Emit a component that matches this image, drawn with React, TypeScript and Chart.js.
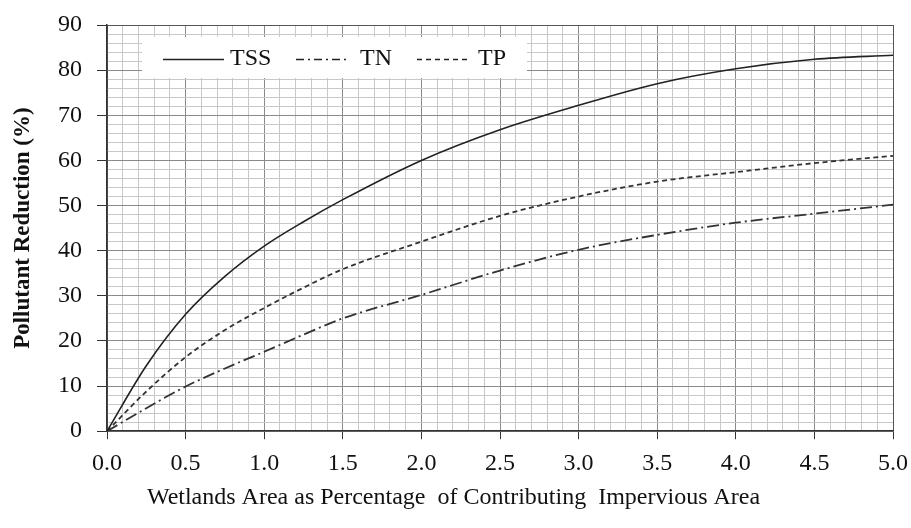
import React, { useEffect, useRef } from "react";
import { Chart, registerables } from "chart.js";

Chart.register(...registerables);

const xValues = [0, 0.25, 0.5, 0.75, 1.0, 1.25, 1.5, 2.0, 2.5, 3.0, 3.5, 4.0, 4.5, 5.0];
const tssValues = [0, 14.5, 25.9, 34.3, 41.0, 46.4, 51.3, 60.0, 66.8, 72.2, 77.0, 80.3, 82.4, 83.3];
const tnValues = [0, 5.1, 9.9, 13.9, 17.6, 21.4, 25.0, 30.2, 35.6, 40.2, 43.5, 46.2, 48.2, 50.2];
const tpValues = [0, 8.8, 16.4, 22.4, 27.3, 31.8, 35.9, 42.0, 47.7, 52.0, 55.3, 57.4, 59.4, 61.0];
const seriesLabels = ["TSS", "TN", "TP"];
const xTitle = "Wetlands Area as Percentage  of Contributing  Impervious Area";
const yTitle = "Pollutant Reduction (%)";

const FONT = "'Liberation Serif', 'Times New Roman', serif";

const toPoints = (ys: number[]) => xValues.map((x, i) => ({ x, y: ys[i] }));

const isMult = (v: number, step: number) => Math.abs(v / step - Math.round(v / step)) < 1e-6;

const legendPlugin = {
  id: "boxLegend",
  beforeDatasetsDraw(chart: any) {
    const ctx = chart.ctx;
    ctx.save();
    ctx.fillStyle = "#ffffff";
    ctx.fillRect(142, 37, 385, 41);
    const items = [
      { x0: 163, x1: 224, tx: 230, dash: [], w: 1.5 },
      { x0: 296, x1: 348, tx: 360, dash: [8, 4, 2, 4], w: 1.6 },
      { x0: 417, x1: 470, tx: 478, dash: [5, 4], w: 1.6 },
    ];
    items.forEach((it, i) => {
      const ds = chart.data.datasets[i];
      ctx.strokeStyle = "#222";
      ctx.lineWidth = it.w;
      ctx.setLineDash(it.dash);
      ctx.beginPath();
      ctx.moveTo(it.x0, 59.5);
      ctx.lineTo(it.x1, 59.5);
      ctx.stroke();
      ctx.setLineDash([]);
      ctx.fillStyle = "#111";
      ctx.font = `24px ${FONT}`;
      ctx.textBaseline = "alphabetic";
      ctx.textAlign = "left";
      ctx.fillText(ds.label, it.tx, 65);
    });
    ctx.restore();
  },
};

const zeroPad = (s: any) => {
  s.paddingTop = 0;
  s.paddingBottom = 0;
  s.paddingLeft = 0;
  s.paddingRight = 0;
};

export default function App() {
  const ref = useRef<HTMLCanvasElement>(null);
  useEffect(() => {
    if (!ref.current) return;
    const chart = new Chart(ref.current, {
      type: "line",
      data: {
        datasets: [
          {
            label: seriesLabels[0],
            data: toPoints(tssValues),
            borderColor: "#222",
            borderWidth: 1.6,
            pointRadius: 0,
            cubicInterpolationMode: "monotone",
          },
          {
            label: seriesLabels[1],
            data: toPoints(tnValues),
            borderColor: "#333",
            borderWidth: 1.8,
            borderDash: [12, 4, 2, 4],
            pointRadius: 0,
            cubicInterpolationMode: "monotone",
          },
          {
            label: seriesLabels[2],
            data: toPoints(tpValues),
            borderColor: "#333",
            borderWidth: 1.8,
            borderDash: [5, 3.5],
            pointRadius: 0,
            cubicInterpolationMode: "monotone",
          },
        ],
      },
      plugins: [legendPlugin],
      options: {
        animation: false,
        responsive: false,
        maintainAspectRatio: false,
        layout: { padding: { left: 14, right: 18, top: 25, bottom: 0 } },
        plugins: {
          legend: { display: false },
          tooltip: { enabled: false },
          title: {
            display: true,
            position: "bottom",
            text: xTitle,
            color: "#111",
            font: { family: FONT, size: 24, weight: "normal" },
            padding: { top: 0, bottom: 16 },
          },
        },
        scales: {
          x: {
            type: "linear",
            min: 0,
            max: 5,
            afterFit: (s: any) => {
              s.height = 52;
              zeroPad(s);
            },
            ticks: {
              stepSize: 0.1,
              autoSkip: false,
              maxRotation: 0,
              padding: 10,
              color: "#111",
              font: { family: FONT, size: 24 },
              callback: (v: any) => (isMult(Number(v), 0.5) ? Number(v).toFixed(1) : ""),
            },
            grid: {
              tickLength: 8,
              lineWidth: 1,
              color: (c: any) => {
                const v = c.tick ? c.tick.value : 0;
                if (isMult(v, 5)) return "#555";
                return isMult(v, 0.5) ? "#8a8a8a" : "#c8c8c8";
              },
              tickColor: (c: any) => {
                const v = c.tick ? c.tick.value : 0;
                return isMult(v, 0.5) ? "#333" : "rgba(0,0,0,0)";
              },
            },
            border: { color: "#333", width: 1.5 },
          },
          y: {
            min: 0,
            max: 90,
            afterFit: (s: any) => {
              s.width = 93;
              zeroPad(s);
            },
            ticks: {
              stepSize: 2,
              autoSkip: false,
              padding: 15,
              color: "#111",
              font: { family: FONT, size: 24 },
              callback: (v: any) => (isMult(Number(v), 10) ? String(v) : ""),
            },
            grid: {
              tickLength: 10,
              lineWidth: 1,
              color: (c: any) => {
                const v = c.tick ? c.tick.value : 0;
                if (v >= 90) return "#555";
                return isMult(v, 10) ? "#8a8a8a" : "#c8c8c8";
              },
              tickColor: (c: any) => {
                const v = c.tick ? c.tick.value : 0;
                return isMult(v, 10) ? "#333" : "rgba(0,0,0,0)";
              },
            },
            border: { color: "#333", width: 1.5 },
            title: {
              display: true,
              text: yTitle,
              color: "#111",
              font: { family: FONT, size: 23, weight: "bold" },
              padding: { top: -5, bottom: 0 },
            },
          },
        },
      },
    });
    return () => chart.destroy();
  }, []);
  return (
    <div style={{ position: "fixed", left: 0, top: 0, width: 911, height: 528, background: "#fff" }}>
      <canvas ref={ref} width={911} height={528} style={{ width: 911, height: 528, display: "block" }} />
    </div>
  );
}
